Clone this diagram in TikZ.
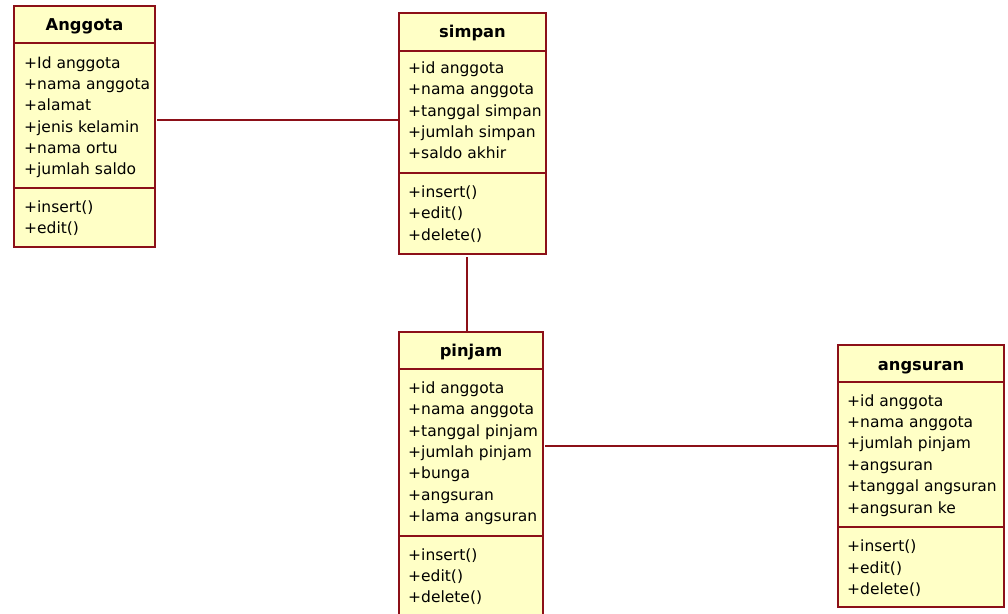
\documentclass[tikz,border=0pt]{standalone}
\usepackage{fontspec}
\setmainfont{DejaVu Sans}
\definecolor{umlline}{RGB}{140,16,24}
\definecolor{umlfill}{RGB}{255,255,198}
\tikzset{
  cls/.style={draw=umlline, fill=umlfill, line width=1.6pt, anchor=north west,
    inner sep=0pt, outer sep=0pt},
  divider/.style={draw=umlline, line width=1.4pt},
  assoc/.style={draw=umlline, line width=1.3pt},
  ctitle/.style={anchor=base, inner sep=0pt, font=\fontsize{16.3}{19}\selectfont\bfseries},
  row/.style={anchor=base west, inner sep=0pt, font=\fontsize{15.5}{18}\selectfont}
}
\begin{document}
\begin{tikzpicture}[x=1pt,y=-1pt]
\useasboundingbox (0,0) rectangle (1008,613);
\clip (0,0) rectangle (1008,613);

% ---------- Anggota ----------
\node[cls, minimum width=141pt, minimum height=241pt] (anggota) at (14,6) {};
\node[ctitle] (anggota-t) at (84.5,30) {Anggota};
\draw[divider] (anggota.west |- 0,43) -- (anggota.east |- 0,43);
\draw[divider] (anggota.west |- 0,188) -- (anggota.east |- 0,188);
\foreach \t [count=\i] in {+Id anggota,+nama anggota,+alamat,+jenis kelamin,+nama ortu,+jumlah saldo}
  \node[row] (anggota-a\i) at (24,{68+21.35*(\i-1)}) {\t};
\foreach \t [count=\i] in {+insert(),+edit()}
  \node[row] (anggota-m\i) at (24,{212.5+21.35*(\i-1)}) {\t};

% ---------- simpan ----------
\node[cls, minimum width=147pt, minimum height=241pt] (simpan) at (399,13) {};
\node[ctitle] (simpan-t) at (472.5,37.3) {simpan};
\draw[divider] (simpan.west |- 0,51) -- (simpan.east |- 0,51);
\draw[divider] (simpan.west |- 0,173) -- (simpan.east |- 0,173);
\foreach \t [count=\i] in {+id anggota,+nama anggota,+tanggal simpan,+jumlah simpan,+saldo akhir}
  \node[row] (simpan-a\i) at (408,{73.3+21.35*(\i-1)}) {\t};
\foreach \t [count=\i] in {+insert(),+edit(),+delete()}
  \node[row] (simpan-m\i) at (408,{197.3+21.35*(\i-1)}) {\t};

% ---------- pinjam ----------
\node[cls, minimum width=144pt, minimum height=300pt] (pinjam) at (399,332) {};
\node[ctitle] (pinjam-t) at (471,356.7) {pinjam};
\draw[divider] (pinjam.west |- 0,369) -- (pinjam.east |- 0,369);
\draw[divider] (pinjam.west |- 0,536) -- (pinjam.east |- 0,536);
\foreach \t [count=\i] in {+id anggota,+nama anggota,+tanggal pinjam,+jumlah pinjam,+bunga,+angsuran,+lama angsuran}
  \node[row] (pinjam-a\i) at (408,{393.3+21.4*(\i-1)}) {\t};
\foreach \t [count=\i] in {+insert(),+edit(),+delete()}
  \node[row] (pinjam-m\i) at (408,{560+21.4*(\i-1)}) {\t};

% ---------- angsuran ----------
\node[cls, minimum width=166pt, minimum height=262pt] (angsuran) at (838,345) {};
\node[ctitle] (angsuran-t) at (921,370) {angsuran};
\draw[divider] (angsuran.west |- 0,382) -- (angsuran.east |- 0,382);
\draw[divider] (angsuran.west |- 0,527) -- (angsuran.east |- 0,527);
\foreach \t [count=\i] in {+id anggota,+nama anggota,+jumlah pinjam,+angsuran,+tanggal angsuran,+angsuran ke}
  \node[row] (angsuran-a\i) at (847,{406+21.4*(\i-1)}) {\t};
\foreach \t [count=\i] in {+insert(),+edit(),+delete()}
  \node[row] (angsuran-m\i) at (847,{551.7+21.4*(\i-1)}) {\t};

% ---------- associations ----------
\coordinate (l1) at (0,120);
\coordinate (l2) at (467,0);
\coordinate (l3) at (0,446);
\draw[assoc] ([xshift=2pt]anggota.east |- l1) -- (simpan.west |- l1);
\draw[assoc] ([yshift=-3pt]simpan.south -| l2) -- (pinjam.north -| l2);
\draw[assoc] ([xshift=2pt]pinjam.east |- l3) -- (angsuran.west |- l3);
\end{tikzpicture}
\end{document}
